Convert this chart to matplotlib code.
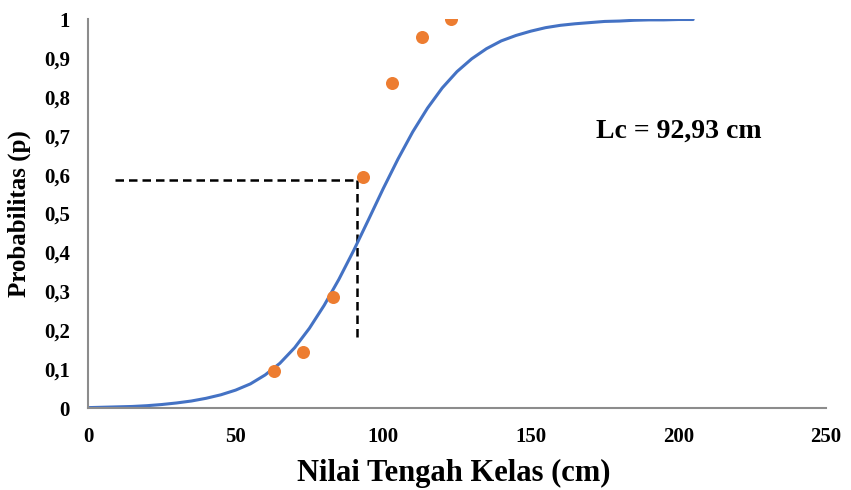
import matplotlib
matplotlib.use("Agg")
import matplotlib.pyplot as plt

# Observed data points
pt_x = [63, 73, 83, 93, 103, 113, 123]
pt_y = [0.095, 0.145, 0.285, 0.595, 0.835, 0.955, 1.0]

# Fitted logistic curve
curve_x = [0, 5, 10, 15, 20, 25, 30, 35, 40, 45, 50, 55, 60, 65, 70, 75, 80, 85, 90,
           95, 100, 105, 110, 115, 120, 125, 130, 135, 140, 145, 150, 155, 160, 165,
           170, 175, 180, 185, 190, 195, 200, 205]
curve_y = [0.001, 0.002, 0.003, 0.004, 0.006, 0.009, 0.013, 0.018, 0.025, 0.034, 0.046,
           0.062, 0.085, 0.115, 0.155, 0.205, 0.264, 0.331, 0.405, 0.484, 0.564, 0.640,
           0.710, 0.771, 0.823, 0.865, 0.898, 0.924, 0.944, 0.958, 0.969, 0.978, 0.984,
           0.988, 0.991, 0.994, 0.995, 0.997, 0.998, 0.998, 0.999, 0.999]

# Lc guide lines
guide_x = [9, 91]
guide_y = [0.586, 0.18]

xticks = [0, 50, 100, 150, 200, 250]
yticks = [0, 0.1, 0.2, 0.3, 0.4, 0.5, 0.6, 0.7, 0.8, 0.9, 1.0]
ytick_labels = ["0", "0,1", "0,2", "0,3", "0,4", "0,5", "0,6", "0,7", "0,8", "0,9", "1"]

serif = ["Liberation Serif", "DejaVu Serif"]

fig = plt.figure(figsize=(8.51, 4.90), dpi=100)
ax = fig.add_axes([0.1034, 0.1673, 0.8672, 0.7937])

ax.plot(curve_x, curve_y, color="#4472C4", lw=2.2, solid_capstyle="round", zorder=2)
ax.scatter(pt_x, pt_y, s=88, color="#ED7D31", zorder=3, linewidths=0)

ax.plot([guide_x[0], guide_x[1]], [guide_y[0], guide_y[0]], color="black", lw=1.8,
        ls=(0, (3.4, 2.0)), zorder=1)
ax.plot([guide_x[1], guide_x[1]], [guide_y[0], guide_y[1]], color="black", lw=1.8,
        ls=(0, (3.4, 2.0)), zorder=1)

ax.text(172, 0.712, "Lc = 92,93 cm", family=serif, fontweight="bold", fontsize=20,
        ha="left", va="center")

ax.set_xlim(0, 250)
ax.set_ylim(0, 1)
ax.set_xticks(xticks)
ax.set_xticklabels([str(v) for v in xticks], family=serif, fontweight="bold", fontsize=15)
ax.set_yticks(yticks)
ax.set_yticklabels(ytick_labels, family=serif, fontweight="bold", fontsize=15)
ax.tick_params(axis="both", length=0)
ax.tick_params(axis="x", pad=14)
ax.tick_params(axis="y", pad=13)

for s in ["top", "right"]:
    ax.spines[s].set_visible(False)
for s in ["left", "bottom"]:
    ax.spines[s].set_color("#8c8c8c")
    ax.spines[s].set_linewidth(1.5)

ax.set_xlabel("Nilai Tengah Kelas (cm)", family=serif, fontweight="bold", fontsize=22,
              labelpad=8.5, x=0.495)
ax.set_ylabel("Probabilitas (p)", family=serif, fontweight="bold", fontsize=18,
              labelpad=9)

fig.savefig("out.png", dpi=100)
